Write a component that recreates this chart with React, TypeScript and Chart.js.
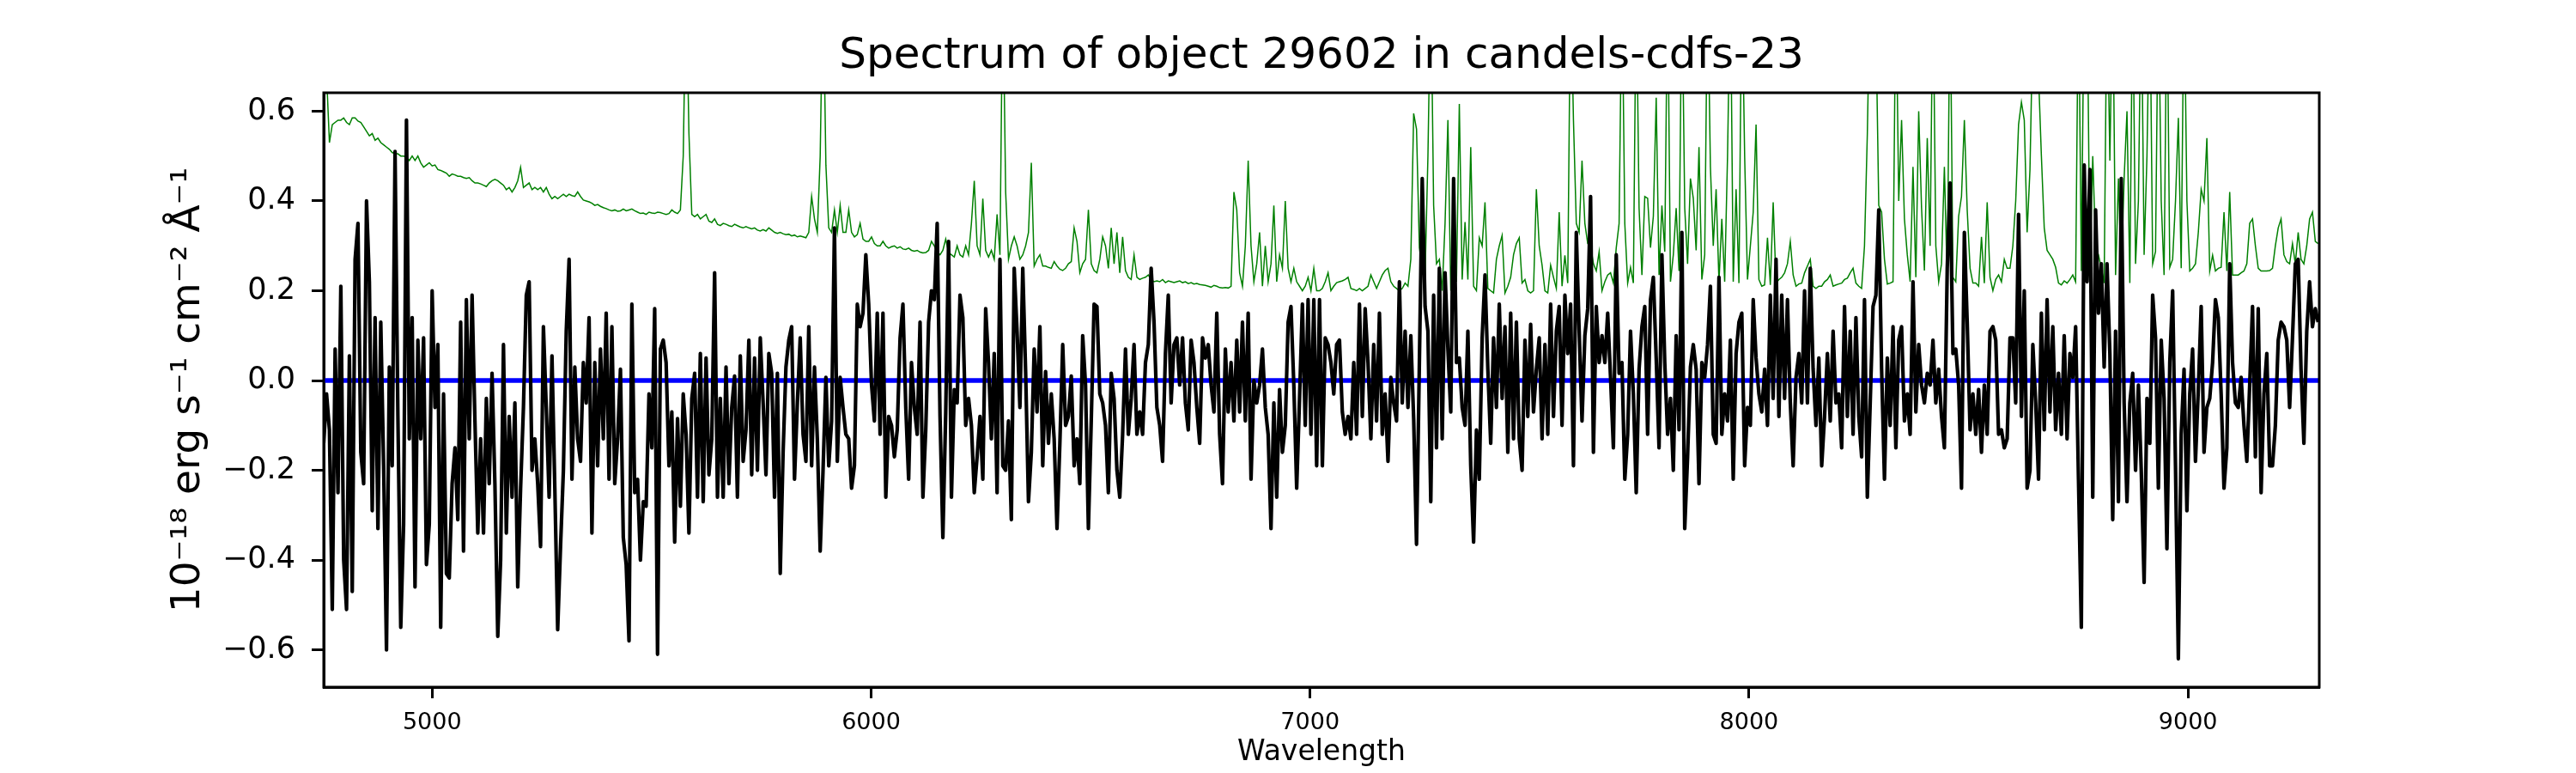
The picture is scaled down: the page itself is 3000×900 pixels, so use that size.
import React, { useEffect, useRef } from 'react';
import { Chart, registerables } from 'chart.js';

Chart.register(...registerables);

const FONT = 'DejaVu Sans';

// spectral grid (Angstrom)
const WAVE_START = 4753;
const WAVE_STEP = 6.5;
const X_MIN = 4753;
const X_MAX = 9299;
const Y_MIN = -0.683;
const Y_MAX = 0.641;

const xTickValues = [5000, 6000, 7000, 8000, 9000];
const yTickValues = [-0.6, -0.4, -0.2, 0, 0.2, 0.4, 0.6];

// object flux, 1e-18 erg/s/cm2/A (black)
const fluxValues = [
  -0.14, -0.03, -0.11, -0.51, 0.07, -0.25, 0.21, -0.40, -0.51, 0.055,
  -0.47, 0.27, 0.35, -0.16, -0.23, 0.40, 0.22, -0.29, 0.14, -0.33,
  0.13, -0.19, -0.60, 0.03, -0.19, 0.51, -0.08, -0.55, -0.32, 0.58,
  -0.13, 0.14, -0.46, 0.09, -0.13, 0.095, -0.41, -0.32, 0.20, -0.06,
  0.08, -0.55, -0.03, -0.43, -0.44, -0.23, -0.15, -0.31, 0.13, -0.38,
  0.18, -0.13, 0.19, -0.09, -0.34, -0.13, -0.34, -0.04, -0.23, 0.016,
  -0.23, -0.57, -0.40, 0.08, -0.34, -0.08, -0.26, -0.05, -0.46, -0.24,
  -0.06, 0.19, 0.22, -0.20, -0.13, -0.23, -0.37, 0.12, -0.06, -0.26,
  0.055, -0.24, -0.555, -0.37, -0.20, 0.11, 0.27, -0.22, 0.03, -0.13,
  -0.18, 0.04, -0.05, 0.14, -0.34, 0.04, -0.19, 0.07, -0.13, 0.15,
  -0.22, 0.12, -0.23, -0.13, 0.025, -0.35, -0.41, -0.58, 0.17, -0.25,
  -0.22, -0.40, -0.27, -0.28, -0.03, -0.15, 0.16, -0.61, 0.07,
  0.09, 0.04, -0.19, -0.07, -0.36, -0.085, -0.28, -0.03, -0.12, -0.34,
  -0.04, 0.016, -0.26, 0.06, -0.27, 0.05, -0.21, -0.13, 0.24, -0.26,
  -0.04, -0.26, 0.03, -0.23, -0.06, 0.01, -0.26, 0.055, -0.18, -0.11,
  0.09, -0.21, 0.05, -0.20, 0.095, -0.05, -0.21, 0.06, 0.016, -0.26,
  0.016, -0.43, -0.16, 0.03, 0.09, 0.12, -0.22, -0.05, 0.095, -0.12,
  -0.18, 0.12, -0.19, 0.03, -0.13, -0.38, -0.20, 0.007, -0.19, -0.09,
  0.34, -0.18, 0.007, -0.06, -0.12, -0.13, -0.24, -0.19, 0.17, 0.12,
  0.15, 0.28, 0.17, -0.01, -0.09, 0.15, -0.12, 0.15, -0.26, -0.08,
  -0.10, -0.17, -0.11, 0.095, 0.17, -0.06, -0.22, 0.04, -0.06, -0.12,
  0.13, -0.26, -0.11, 0.13, 0.20, 0.18, 0.35, -0.08, -0.35, -0.07,
  0.31, -0.26, -0.02, -0.05, 0.19, 0.14, -0.10, -0.04, -0.10, -0.25,
  -0.17, -0.08, -0.22, 0.16, 0.04, -0.13, 0.06, -0.25,
  0.27, -0.19, -0.20, -0.09, -0.31, 0.25, 0.11, -0.06, 0.25, 0.02,
  -0.27, -0.16, 0.07, -0.07, 0.12, -0.19, 0.02, -0.14, -0.03, -0.13,
  -0.33, -0.14, 0.08, -0.10, -0.08, 0.01, -0.19, -0.13, -0.23, 0.10,
  -0.01, -0.33, -0.09, 0.17, 0.165, -0.03, -0.05, -0.10, -0.25, 0.016,
  -0.04, -0.20, -0.26, -0.12, 0.07, -0.12, -0.04, 0.08, -0.12, -0.07,
  -0.12, 0.04, 0.08, 0.25, 0.13, -0.06, -0.10, -0.18, 0.06, 0.19,
  -0.05, 0.08, 0.095, -0.01, 0.095, -0.05, -0.11, 0.09, 0.04, -0.06,
  -0.14, 0.095, 0.05, 0.08, -0.01, -0.07, 0.15, -0.12, -0.23, 0.07,
  -0.07, 0.04, -0.09, 0.09, -0.07, 0.13, -0.09, 0.15, -0.22, 0.0,
  -0.05, -0.01, 0.07, -0.06, -0.12, -0.33, -0.05, -0.26, -0.02, -0.16,
  -0.10, 0.13, 0.165, -0.01, -0.24, -0.04, 0.17, -0.10, 0.18, -0.12,
  0.18, -0.19, 0.18, -0.19, 0.095, 0.08, 0.04,
  -0.03, 0.08, 0.09, -0.07, -0.12, -0.08, -0.13, 0.04, -0.12, 0.17,
  -0.08, 0.16, 0.04, -0.13, 0.08, -0.09, 0.15, -0.12, -0.03, -0.18,
  0.007, -0.05, -0.09, 0.22, -0.05, 0.11, -0.06, 0.10, -0.085, -0.365,
  0.04, 0.45, 0.165, 0.11, -0.27, 0.19, -0.15, 0.25, -0.13, 0.24,
  0.07, -0.07, 0.45, 0.04, 0.05, -0.06, -0.10, 0.11, -0.19, -0.36,
  -0.11, -0.22, 0.095, 0.235, 0.025, -0.14, 0.095, -0.06, 0.17, -0.04,
  0.12, -0.16, 0.15, -0.13, 0.13, -0.13, -0.20, 0.09, -0.08, 0.125,
  -0.07, 0.025, 0.095, -0.13, 0.08, -0.12, 0.17, -0.08, 0.11, 0.165,
  -0.10, 0.19, 0.06, 0.17, -0.19, 0.33, 0.11, -0.09, 0.10, 0.16,
  0.41, -0.16, 0.165, 0.04, 0.10, 0.04, 0.15, 0.007, -0.15, 0.28,
  0.016, 0.04, -0.22, -0.12, 0.11, -0.03, -0.25, 0.025, 0.12, 0.165,
  -0.12, 0.18, 0.23, 0.05, -0.15, 0.28, 0.04,
  -0.12, -0.04, -0.20, 0.10, -0.11, 0.33, -0.33, -0.17, 0.03, 0.08,
  0.025, -0.23, 0.04, 0.007, 0.08, 0.21, -0.12, -0.14, 0.23, -0.12,
  -0.03, -0.09, 0.09, -0.22, 0.06, 0.13, 0.15, -0.19, -0.06, -0.10,
  0.18, 0.05, -0.03, -0.07, 0.025, -0.10, 0.19, -0.04, 0.27, -0.08,
  0.19, -0.04, 0.18, -0.05, -0.19, 0.007, 0.06, -0.05, 0.20, -0.05,
  0.25, 0.025, -0.10, 0.05, -0.19, -0.08, 0.06, -0.09, 0.11, -0.05,
  -0.03, -0.15, 0.165, -0.08, 0.11, -0.12, 0.14, -0.08, -0.17, 0.18,
  -0.26, -0.05, 0.165, 0.19, 0.38, 0.025, -0.22, 0.05, -0.10, 0.12,
  -0.15, 0.09, 0.12, -0.09, -0.03, -0.12, 0.22, -0.07, 0.08, -0.01,
  -0.05, 0.016, -0.01, 0.09, -0.05, 0.025, -0.08, -0.15, 0.25, 0.44,
  0.06, 0.07, -0.01, -0.24, 0.33, 0.13, -0.11, -0.03, -0.12, -0.02,
  -0.16, -0.01, -0.12, 0.11, 0.12, 0.09, -0.12,
  -0.11, -0.15, -0.13, 0.095, 0.095, -0.05, 0.37, -0.08, 0.20, -0.24,
  -0.20, 0.08, -0.05, -0.22, 0.15, -0.11, 0.18, -0.07, 0.12, -0.11,
  0.016, -0.12, 0.10, -0.13, 0.06, 0.007, 0.12, -0.22, -0.55, 0.48,
  0.22, 0.47, -0.26, 0.38, 0.15, 0.26, 0.03, 0.26, 0.06, -0.31,
  0.11, -0.27, 0.45, -0.05, -0.27, -0.05, 0.016, -0.20, -0.01, -0.20,
  -0.45, -0.04, -0.14, 0.19, 0.095, -0.24, 0.09, -0.04, -0.375, 0.04,
  0.20, -0.19, -0.62, -0.12, 0.025, -0.29, -0.03, 0.07, -0.18, -0.02,
  0.165, -0.16, -0.06, -0.04, 0.04, 0.18, 0.14, -0.03, -0.24, -0.15,
  0.26, 0.04, -0.05, -0.06, 0.007, -0.10, -0.18, -0.01, 0.165, -0.17,
  0.16, -0.25, -0.03, 0.06, -0.19, -0.19, -0.10, 0.09, 0.13, 0.12,
  0.09, -0.06, 0.095, 0.26, 0.27, 0.025, -0.14, 0.11, 0.22, 0.12,
  0.16, 0.13,
];

// noise / error spectrum (green)
const errorValues = [
  0.75, 0.68, 0.53, 0.57, 0.575, 0.58, 0.58, 0.585, 0.575, 0.57,
  0.585, 0.585, 0.578, 0.575, 0.565, 0.555, 0.545, 0.55, 0.535, 0.54,
  0.53, 0.525, 0.52, 0.515, 0.508, 0.505, 0.505, 0.5, 0.5, 0.498,
  0.49, 0.5, 0.49, 0.5, 0.485, 0.475, 0.48, 0.485, 0.478, 0.48,
  0.47, 0.468, 0.465, 0.462, 0.455, 0.46, 0.458, 0.455, 0.455, 0.452,
  0.45, 0.452, 0.445, 0.44, 0.44, 0.438, 0.435, 0.432, 0.44, 0.445,
  0.448, 0.445, 0.44, 0.435, 0.425, 0.43, 0.42, 0.43, 0.445, 0.475,
  0.43, 0.435, 0.44, 0.425, 0.43, 0.425, 0.43, 0.42, 0.43, 0.415,
  0.405, 0.41, 0.405, 0.41, 0.415, 0.41, 0.415, 0.412, 0.41, 0.42,
  0.41, 0.402, 0.4, 0.398, 0.395, 0.39, 0.392, 0.388, 0.385, 0.383,
  0.38, 0.378, 0.38, 0.377, 0.378, 0.382, 0.378, 0.38, 0.382, 0.378,
  0.375, 0.372, 0.373, 0.37, 0.375, 0.373, 0.372, 0.375, 0.374,
  0.372, 0.37, 0.372, 0.38, 0.375, 0.372, 0.38, 0.5, 0.9, 0.55,
  0.37, 0.365, 0.37, 0.36, 0.365, 0.37, 0.355, 0.352, 0.36, 0.348,
  0.345, 0.35, 0.348, 0.345, 0.343, 0.348, 0.345, 0.342, 0.34, 0.343,
  0.34, 0.338, 0.34, 0.335, 0.333, 0.336, 0.333, 0.34, 0.335, 0.33,
  0.328, 0.33, 0.327, 0.325, 0.326, 0.322, 0.324, 0.32, 0.322, 0.32,
  0.318, 0.33, 0.41, 0.36, 0.33, 0.5, 0.9, 0.48, 0.34, 0.33,
  0.38, 0.33, 0.39, 0.33, 0.33, 0.38, 0.33, 0.32, 0.325, 0.35,
  0.315, 0.31, 0.31, 0.32, 0.305, 0.3, 0.3, 0.31, 0.3, 0.295,
  0.298, 0.3, 0.295, 0.298, 0.293, 0.292, 0.295, 0.29, 0.288, 0.29,
  0.286, 0.284, 0.285, 0.29, 0.31, 0.3, 0.285, 0.28, 0.29, 0.315,
  0.285, 0.28, 0.275, 0.3, 0.28, 0.275, 0.3, 0.28, 0.35, 0.445,
  0.3, 0.28, 0.405, 0.29, 0.275, 0.29, 0.27, 0.37,
  0.28, 0.9, 0.42, 0.27, 0.3, 0.32, 0.3, 0.27, 0.28, 0.3,
  0.33, 0.485, 0.255, 0.27, 0.28, 0.255, 0.255, 0.252, 0.25, 0.265,
  0.255, 0.248, 0.245, 0.25, 0.26, 0.265, 0.34, 0.31, 0.24, 0.26,
  0.27, 0.38, 0.26, 0.245, 0.24, 0.27, 0.32, 0.3, 0.25, 0.34,
  0.26, 0.33, 0.24, 0.32, 0.245, 0.23, 0.225, 0.28, 0.23, 0.225,
  0.228, 0.23, 0.235, 0.225, 0.22, 0.222, 0.22, 0.225, 0.218, 0.222,
  0.22, 0.218, 0.22, 0.222, 0.218, 0.22, 0.216, 0.218, 0.215, 0.216,
  0.214, 0.213, 0.212, 0.21, 0.208, 0.212, 0.21, 0.207, 0.206, 0.207,
  0.206, 0.21, 0.42, 0.38, 0.24, 0.21, 0.3, 0.49, 0.3, 0.22,
  0.26, 0.33, 0.21, 0.3, 0.22, 0.26, 0.39, 0.22, 0.28, 0.25,
  0.4, 0.25, 0.22, 0.25, 0.22, 0.21, 0.2, 0.21, 0.23, 0.2,
  0.25, 0.2, 0.2, 0.205, 0.22, 0.24, 0.2,
  0.21, 0.218, 0.22, 0.222, 0.225, 0.23, 0.205, 0.203, 0.2, 0.205,
  0.2, 0.205, 0.21, 0.235, 0.22, 0.205, 0.22, 0.235, 0.245, 0.25,
  0.22, 0.21, 0.205, 0.2, 0.205, 0.217, 0.21, 0.27, 0.595, 0.56,
  0.296, 0.25, 0.235, 0.5, 0.9, 0.39, 0.26, 0.27, 0.2, 0.35,
  0.58, 0.2, 0.366, 0.22, 0.616, 0.225, 0.353, 0.225, 0.52, 0.21,
  0.2, 0.318, 0.3, 0.397, 0.205, 0.2, 0.195, 0.27, 0.3, 0.323,
  0.195, 0.21, 0.23, 0.28, 0.305, 0.318, 0.217, 0.225, 0.2, 0.195,
  0.2, 0.426, 0.3, 0.257, 0.2, 0.195, 0.257, 0.23, 0.205, 0.375,
  0.21, 0.279, 0.217, 0.9, 0.58, 0.35, 0.33, 0.49, 0.35, 0.305,
  0.3, 0.26, 0.244, 0.287, 0.2, 0.22, 0.235, 0.24, 0.217, 0.296,
  0.35, 0.9, 0.349, 0.217, 0.252, 0.217, 0.9, 0.384, 0.235, 0.41,
  0.406, 0.296, 0.366, 0.63, 0.235, 0.39, 0.287,
  0.9, 0.22, 0.28, 0.384, 0.244, 0.9, 0.384, 0.26, 0.45, 0.406,
  0.29, 0.52, 0.225, 0.28, 0.9, 0.476, 0.3, 0.426, 0.22, 0.36,
  0.22, 0.5, 0.9, 0.22, 0.426, 0.217, 0.9, 0.5, 0.225, 0.3,
  0.375, 0.57, 0.225, 0.21, 0.213, 0.318, 0.213, 0.397, 0.217, 0.225,
  0.23, 0.24, 0.26, 0.31, 0.235, 0.21, 0.215, 0.217, 0.24, 0.255,
  0.27, 0.21, 0.205, 0.21, 0.21, 0.22, 0.225, 0.235, 0.21, 0.213,
  0.215, 0.217, 0.225, 0.228, 0.24, 0.25, 0.217, 0.21, 0.205, 0.3,
  0.55, 0.9, 0.9, 0.8, 0.39, 0.375, 0.27, 0.215, 0.217, 0.22,
  0.9, 0.4, 0.58, 0.36, 0.28, 0.22, 0.476, 0.23, 0.6, 0.384,
  0.245, 0.54, 0.3, 0.9, 0.3, 0.22, 0.26, 0.476, 0.22, 0.9,
  0.23, 0.22, 0.366, 0.41, 0.58, 0.38, 0.25, 0.217, 0.217, 0.21,
  0.32, 0.217, 0.397, 0.23, 0.2, 0.225, 0.235,
  0.22, 0.27, 0.25, 0.25, 0.3, 0.4, 0.57, 0.62, 0.58, 0.33,
  0.47, 0.8, 0.85, 0.68, 0.5, 0.34, 0.29, 0.28, 0.27, 0.252,
  0.217, 0.213, 0.222, 0.217, 0.225, 0.235, 0.22, 0.9, 0.244, 0.9,
  0.9, 0.252, 0.5, 0.3, 0.28, 0.25, 0.217, 0.9, 0.49, 0.9,
  0.235, 0.45, 0.235, 0.45, 0.6, 0.217, 0.9, 0.26, 0.4, 0.9,
  0.28, 0.5, 0.9, 0.26, 0.287, 0.9, 0.4, 0.235, 0.9, 0.252,
  0.27, 0.4, 0.585, 0.25, 0.9, 0.4, 0.244, 0.25, 0.26, 0.33,
  0.426, 0.4, 0.54, 0.244, 0.279, 0.244, 0.25, 0.252, 0.375, 0.244,
  0.42, 0.235, 0.235, 0.235, 0.24, 0.244, 0.26, 0.35, 0.36, 0.3,
  0.25, 0.244, 0.244, 0.244, 0.245, 0.25, 0.3, 0.34, 0.36, 0.28,
  0.265, 0.26, 0.305, 0.26, 0.33, 0.27, 0.26, 0.3, 0.36, 0.375,
  0.31, 0.305,
];

// zero level (blue)
const zeroWave = [X_MIN, X_MAX];
const zeroValues = [0, 0];

const toPoints = (values: number[]) =>
  values.map((y, i) => ({ x: WAVE_START + i * WAVE_STEP, y }));

const formatY = (v: number) => (v < 0 ? '\u2212' : '') + Math.abs(v).toFixed(1);

// matplotlib-style box around the axes
const framePlugin = {
  id: 'frame',
  afterDatasetsDraw(chart: Chart) {
    const { ctx, chartArea } = chart;
    ctx.save();
    ctx.strokeStyle = '#000';
    ctx.lineWidth = 3;
    ctx.strokeRect(chartArea.left, chartArea.top, chartArea.right - chartArea.left, chartArea.bottom - chartArea.top);
    ctx.restore();
  },
};

const SpectrumChart: React.FC = () => {
  const canvasRef = useRef<HTMLCanvasElement | null>(null);
  const chartRef = useRef<Chart<'line'> | null>(null);

  useEffect(() => {
    if (!canvasRef.current) return;
    const ctx = canvasRef.current.getContext('2d');
    if (!ctx) return;

    if (chartRef.current) {
      chartRef.current.destroy();
    }

    chartRef.current = new Chart(ctx, {
      type: 'line',
      data: {
        datasets: [
          {
            label: 'flux',
            data: toPoints(fluxValues),
            borderColor: '#000000',
            borderWidth: 4.2,
            borderJoinStyle: 'round',
            pointRadius: 0,
            tension: 0,
            clip: 0,
          },
          {
            label: 'error',
            data: toPoints(errorValues),
            borderColor: '#008000',
            borderWidth: 1.5,
            pointRadius: 0,
            tension: 0,
            clip: 0,
          },
          {
            label: 'zero',
            data: zeroWave.map((x, i) => ({ x, y: zeroValues[i] })),
            borderColor: '#0000ff',
            borderWidth: 5.5,
            pointRadius: 0,
            clip: 0,
          },
        ],
      },
      options: {
        animation: false,
        responsive: false,
        devicePixelRatio: 1,
        layout: { padding: { left: 0, right: 299, top: 0, bottom: 0 } },
        plugins: {
          legend: { display: false },
          tooltip: { enabled: false },
          title: {
            display: true,
            text: 'Spectrum of object 29602 in candels-cdfs-23',
            color: '#000',
            fullSize: false,
            font: { family: FONT, size: 50, weight: 'normal', lineHeight: 1 },
            padding: { top: 41, bottom: 17 },
          },
        },
        scales: {
          x: {
            type: 'linear',
            min: X_MIN,
            max: X_MAX,
            afterBuildTicks: (scale) => {
              scale.ticks = xTickValues.map((value) => ({ value }));
            },
            afterFit: (scale) => {
              scale.height = 100;
            },
            ticks: {
              autoSkip: false,
              maxRotation: 0,
              padding: 13,
              color: '#000',
              font: { family: FONT, size: 27 },
              callback: (v) => String(v),
            },
            grid: {
              drawOnChartArea: false,
              drawTicks: true,
              tickLength: 13,
              tickWidth: 3,
              tickColor: '#000',
            },
            border: { display: true, color: '#000', width: 3 },
            title: {
              display: true,
              text: 'Wavelength',
              color: '#000',
              font: { family: FONT, size: 33, lineHeight: 1 },
              padding: { top: 0, bottom: 7 },
            },
          },
          y: {
            type: 'linear',
            min: Y_MIN,
            max: Y_MAX,
            afterBuildTicks: (scale) => {
              scale.ticks = yTickValues.map((value) => ({ value }));
            },
            afterFit: (scale) => {
              scale.width = 377;
            },
            ticks: {
              autoSkip: false,
              padding: 19,
              color: '#000',
              font: { family: FONT, size: 35 },
              callback: (v) => formatY(Number(v)),
            },
            grid: {
              drawOnChartArea: false,
              drawTicks: true,
              tickLength: 14,
              tickWidth: 3,
              tickColor: '#000',
            },
            border: { display: true, color: '#000', width: 3 },
            title: {
              display: true,
              text: '10\u207B\u00B9\u2078 erg s\u207B\u00B9 cm\u207B\u00B2 \u00C5\u207B\u00B9',
              color: '#000',
              font: { family: FONT, size: 47, lineHeight: 1 },
              padding: { top: 196, bottom: 0 },
            },
          },
        },
      },
      plugins: [framePlugin],
    });

    return () => {
      if (chartRef.current) {
        chartRef.current.destroy();
        chartRef.current = null;
      }
    };
  }, []);

  return (
    <div style={{ position: 'absolute', left: 0, top: 0, width: 3000, height: 900, background: '#fff' }}>
      <canvas ref={canvasRef} width={3000} height={900} style={{ display: 'block', width: 3000, height: 900 }} />
    </div>
  );
};

export default function App() {
  return <SpectrumChart />;
}
